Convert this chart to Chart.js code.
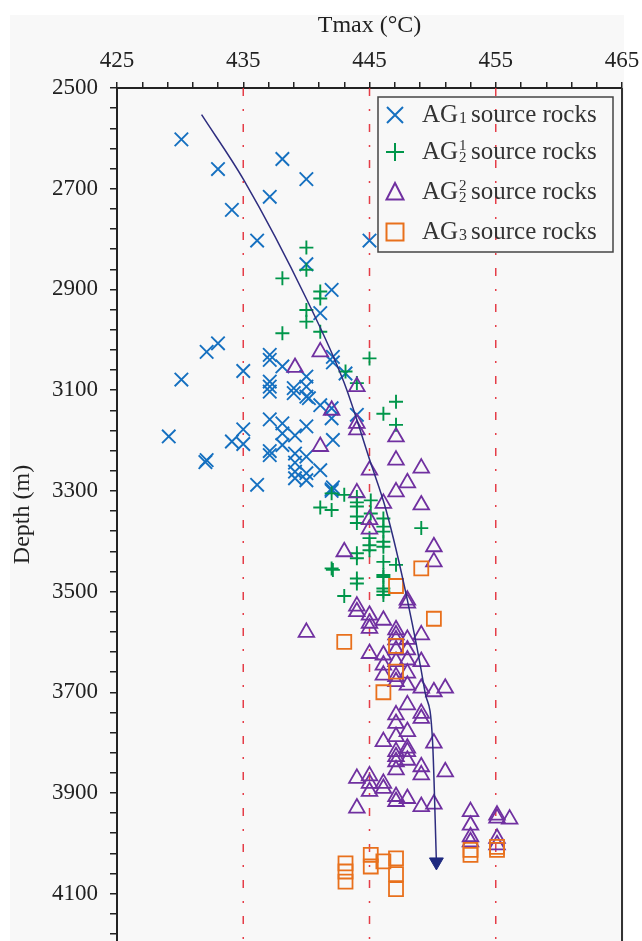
<!DOCTYPE html>
<html>
<head>
<meta charset="utf-8">
<script src="https://cdn.jsdelivr.net/npm/chart.js@4/dist/chart.umd.min.js"></script>
<style>
html,body{margin:0;padding:0;background:#fff;}
canvas{display:block;}
</style>
</head>
<body>
<canvas id="c" width="642" height="941"></canvas>
<script>
// ---- tick labels / reference lines ----
const xTickLabels = [425, 435, 445, 455, 465];
const yTickLabels = [2500, 2700, 2900, 3100, 3300, 3500, 3700, 3900, 4100];
const refLinesT = [435, 445, 455];

// ---- AG1 source rocks (x markers): Tmax, Depth ----
const ag1T = [430.1,438.1,433.0,440.0,437.1,434.1,436.1,445.0,440.0,442.0,441.1,433.0,432.1,430.1,435.0,437.1,437.1,438.1,440.0,442.1,442.1,443.1,437.1,437.1,437.1,439.0,439.0,440.0,440.2,440.0,441.1,442.0,442.0,444.0,429.1,432.1,432.0,434.1,435.0,435.0,437.1,438.1,438.1,439.1,440.0,442.1,437.1,437.1,438.1,439.1,439.1,440.0,441.1,439.1,439.1,440.0,440.0,436.1,442.0,442.1,442.0];
const ag1D = [2602,2641,2661,2681,2716,2742,2803,2803,2850,2901,2947,3007,3024,3079,3062,3030,3040,3053,3073,3034,3045,3067,3083,3093,3103,3096,3106,3113,3116,3093,3130,3136,3156,3149,3192,3239,3243,3202,3178,3207,3158,3166,3186,3190,3172,3199,3221,3229,3209,3226,3244,3232,3259,3262,3275,3265,3279,3288,3297,3293,3300];

// ---- AG2^1 source rocks (+ markers) ----
const ag21T = [440.0,440.0,438.1,441.1,441.1,440.0,440.0,441.1,438.1,443.1,444.0,445.0,447.1,446.1,447.1,442.0,443.0,444.0,441.1,442.0,444.0,444.0,445.1,444.0,444.0,445.1,446.1,446.1,446.1,449.1,445.0,445.0,445.0,446.1,446.1,444.0,444.0,446.1,447.1,442.0,442.1,446.1,446.1,444.0,444.0,446.1,446.1,446.1,443.0];
const ag21D = [2817,2861,2878,2904,2918,2941,2964,2984,2987,3063,3086,3037,3123,3147,3169,3305,3308,3312,3333,3338,3323,3331,3319,3351,3364,3345,3355,3371,3381,3374,3394,3408,3418,3401,3411,3424,3434,3441,3447,3454,3457,3467,3471,3474,3484,3494,3500,3507,3509];

// ---- AG2^2 source rocks (triangles) ----
const ag22T = [439.1,441.1,442.0,444.0,444.0,444.0,441.1,445.0,444.0,447.1,447.1,449.1,448.0,447.1,446.1,449.1,445.0,445.0,450.1,450.1,443.0,444.0,444.0,445.0,445.0,445.0,446.1,448.0,448.0,440.0,447.1,447.1,447.1,448.0,449.1,445.0,446.1,447.1,448.0,446.1,447.1,448.0,449.1,446.1,447.1,447.1,448.0,448.0,449.1,450.1,451.0,448.0,447.1,447.1,447.1,449.1,449.1,448.0,446.1,450.1,447.1,447.1,447.1,447.1,448.0,448.0,448.0,449.1,449.1,451.0,444.0,445.0,445.0,445.0,446.1,446.1,447.1,447.1,448.0,449.1,450.1,444.0,453.0,453.0,453.0,453.0,455.1,455.1,455.1,455.1,456.1];
const ag22D = [3055,3024,3140,3093,3166,3179,3212,3259,3304,3193,3239,3255,3284,3302,3325,3328,3357,3376,3411,3441,3421,3529,3540,3547,3563,3573,3557,3517,3523,3581,3576,3586,3596,3595,3586,3623,3626,3616,3616,3646,3639,3636,3639,3666,3669,3679,3662,3686,3692,3699,3692,3725,3745,3762,3788,3742,3752,3778,3798,3801,3818,3828,3838,3854,3811,3818,3835,3848,3864,3858,3871,3866,3881,3897,3881,3891,3907,3917,3911,3927,3922,3930,3937,3964,3987,3997,3944,3950,3990,4003,3952];

// ---- AG3 source rocks (squares) ----
const ag3T = [449.1,447.1,450.1,443.0,447.1,447.1,446.1,453.0,453.0,455.1,455.1,443.1,443.1,443.1,445.1,445.1,446.1,447.1,447.1,447.1];
const ag3D = [3454,3489,3554,3600,3608,3659,3700,4013,4023,4007,4013,4040,4056,4076,4023,4046,4036,4030,4061,4091];

// ---- trend curve ----
const trendT = [431.7,435.05,440.05,443.0,445.1,446.3,448.0,449.4,450.0,450.3];
const trendD = [2553,2683,2921,3086,3245,3337,3517,3700,3800,4037];

// ---- legend text ----
const legendMain = ['AG','AG','AG','AG'];
const legendSub = ['1','2','2','3'];
const legendSup = ['','1','2',''];
const legendTail = 'source rocks';

const pts = (T, D) => T.map((t, i) => ({x: t, y: D[i]}));

const COL = {
  x: '#1570c0', plus: '#00964a', tri: '#7030a0', sq: '#e8701c',
  trend: '#2e2d7f', red: 'rgba(226,40,52,0.9)', axis: '#222'
};
const SERIF = "'Liberation Serif', 'Times New Roman', serif";

const refDatasets = refLinesT.map(t => ({
  type: 'line', data: [{x: t, y: 2500}, {x: t, y: 4194}], showLine: true,
  borderColor: COL.red, borderWidth: 1.5, borderDash: [8, 13, 2, 13],
  pointRadius: 0, order: 10
}));

const bgPlugin = {
  id: 'bg',
  beforeDraw(chart) {
    const c = chart.ctx;
    c.save();
    c.fillStyle = '#ffffff';
    c.fillRect(0, 0, chart.width, chart.height);
    c.fillStyle = '#f8f8f8';
    c.fillRect(10, 15, 614, chart.height - 15);
    c.restore();
  },
  afterDraw(chart) {
    const c = chart.ctx, a = chart.chartArea;
    c.save();
    // right frame line
    c.strokeStyle = '#333';
    c.lineWidth = 2;
    c.beginPath();
    c.moveTo(a.right, a.top);
    c.lineTo(a.right, a.bottom);
    c.stroke();
    // legend box
    const L = 378, T = 97, R = 613, B = 252;
    c.strokeStyle = '#444';
    c.lineWidth = 1.5;
    c.strokeRect(L, T, R - L, B - T);
    const rowY = [115, 152, 192, 232];
    const styles = ['x', 'plus', 'tri', 'sq'];
    const cols = [COL.x, COL.plus, COL.tri, COL.sq];
    for (let i = 0; i < 4; i++) {
      const mx = 395, my = rowY[i];
      c.strokeStyle = cols[i];
      c.lineWidth = 2;
      c.beginPath();
      if (styles[i] === 'x') {
        c.moveTo(mx - 8, my - 8); c.lineTo(mx + 8, my + 8);
        c.moveTo(mx - 8, my + 8); c.lineTo(mx + 8, my - 8);
      } else if (styles[i] === 'plus') {
        c.moveTo(mx - 9, my); c.lineTo(mx + 9, my);
        c.moveTo(mx, my - 9); c.lineTo(mx, my + 9);
      } else if (styles[i] === 'tri') {
        c.moveTo(mx, my - 9); c.lineTo(mx + 8.5, my + 7.5); c.lineTo(mx - 8.5, my + 7.5); c.closePath();
      } else {
        c.rect(mx - 8.5, my - 8.5, 17, 17);
      }
      c.stroke();
      // text
      const base = my + 7;
      c.fillStyle = '#333';
      c.textBaseline = 'alphabetic';
      c.textAlign = 'left';
      c.font = '25px ' + SERIF;
      c.fillText(legendMain[i], 422, base);
      const w = c.measureText(legendMain[i]).width;
      if (legendSup[i]) {
        c.font = '15px ' + SERIF;
        c.fillText(legendSub[i], 422 + w + 1, base + 3);
        c.fillText(legendSup[i], 422 + w + 1, base - 9);
      } else {
        c.font = '16px ' + SERIF;
        c.fillText(legendSub[i], 422 + w + 1, base + 1);
      }
      c.font = '25px ' + SERIF;
      c.fillText(legendTail, 471, base);
    }
    c.restore();
  }
};

const xMinor = [];
for (let v = 425; v <= 465; v += 2) xMinor.push(v);
const yMinor = [];
for (let v = 2500; v <= 4194; v += 40) yMinor.push(v);

new Chart(document.getElementById('c'), {
  type: 'scatter',
  data: {
    datasets: [
      {
        type: 'line', label: 'trend', data: pts(trendT, trendD), showLine: true,
        borderColor: COL.trend, borderWidth: 1.5, cubicInterpolationMode: 'monotone', fill: false,
        pointRadius: (ctx) => ctx.dataIndex === trendT.length - 1 ? 8 : 0,
        pointStyle: 'triangle', pointRotation: 180,
        pointBackgroundColor: '#1f2a80', pointBorderColor: '#1f2a80', pointBorderWidth: 1,
        order: 0
      },
      {
        label: 'AG1', data: pts(ag1T, ag1D), pointStyle: 'crossRot', pointRadius: 9.5,
        pointBorderColor: COL.x, pointBackgroundColor: 'transparent', pointBorderWidth: 1.9, order: 4
      },
      {
        label: 'AG2-1', data: pts(ag21T, ag21D), pointStyle: 'cross', pointRadius: 7,
        pointBorderColor: COL.plus, pointBackgroundColor: 'transparent', pointBorderWidth: 1.9, order: 3
      },
      {
        label: 'AG2-2', data: pts(ag22T, ag22D), pointStyle: 'triangle', pointRadius: 9,
        pointBorderColor: COL.tri, pointBackgroundColor: 'transparent', pointBorderWidth: 1.8, order: 2
      },
      {
        label: 'AG3', data: pts(ag3T, ag3D), pointStyle: 'rect', pointRadius: 9.9,
        pointBorderColor: COL.sq, pointBackgroundColor: 'transparent', pointBorderWidth: 1.8, order: 1
      },
      ...refDatasets
    ]
  },
  options: {
    responsive: false,
    animation: false,
    devicePixelRatio: 1,
    layout: {autoPadding: false, padding: {left: 0, right: 20, top: 0, bottom: 0}},
    plugins: {legend: {display: false}, tooltip: {enabled: false}},
    scales: {
      x: {
        type: 'linear', position: 'top', min: 425, max: 465,
        afterBuildTicks: (s) => { s.ticks = xMinor.map(v => ({value: v})); },
        afterFit: (s) => { s.height = 88; s.paddingLeft = 0; s.paddingRight = 0; s.paddingTop = 0; s.paddingBottom = 0; },
        ticks: {
          autoSkip: false, maxRotation: 0, padding: 7, color: COL.axis,
          font: {family: SERIF, size: 23},
          callback: (v) => xTickLabels.includes(v) ? String(v) : ''
        },
        grid: {drawOnChartArea: false, drawTicks: true, tickLength: 6, color: COL.axis, lineWidth: 1.5},
        border: {display: true, color: COL.axis, width: 2},
        title: {display: true, text: 'Tmax (°C)', color: COL.axis, font: {family: SERIF, size: 24}, padding: {top: 11, bottom: 0}}
      },
      y: {
        type: 'linear', position: 'left', reverse: true, min: 2500, max: 4194,
        afterBuildTicks: (s) => { s.ticks = yMinor.map(v => ({value: v})); },
        afterFit: (s) => { s.width = 117; s.paddingLeft = 0; s.paddingRight = 0; s.paddingTop = 0; s.paddingBottom = 0; },
        ticks: {
          autoSkip: false, padding: 12, color: COL.axis,
          font: {family: SERIF, size: 23},
          callback: (v) => yTickLabels.includes(v) ? String(v) : ''
        },
        grid: {drawOnChartArea: false, drawTicks: true, tickLength: 7, color: COL.axis, lineWidth: 1.5},
        border: {display: true, color: COL.axis, width: 2},
        title: {display: true, text: 'Depth (m)', color: COL.axis, font: {family: SERIF, size: 24}, padding: {top: 8, bottom: 0}}
      }
    }
  },
  plugins: [bgPlugin]
});
</script>
</body>
</html>
